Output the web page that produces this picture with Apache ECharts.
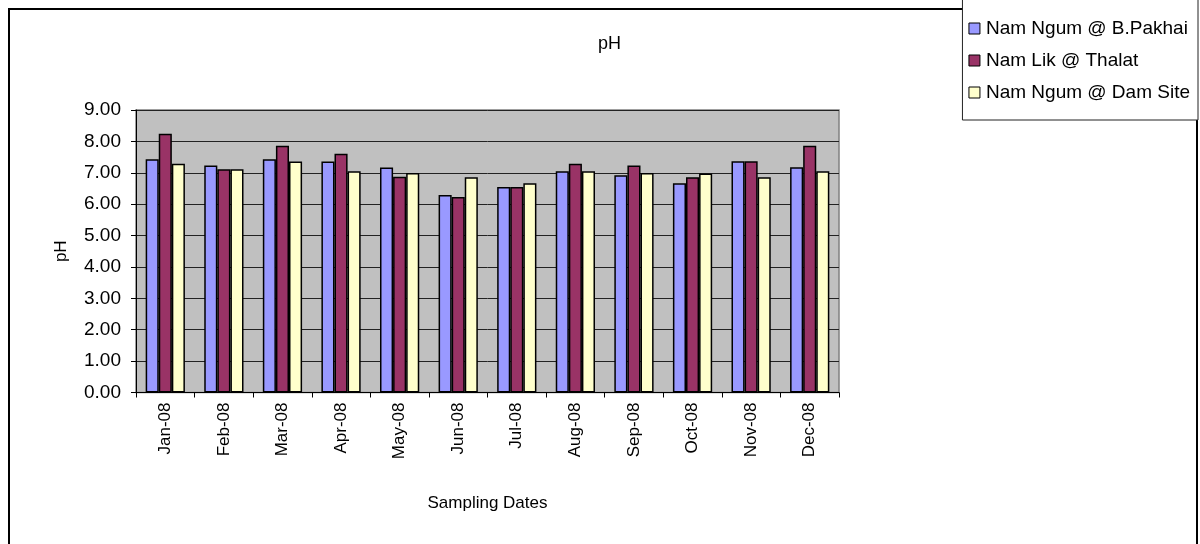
<!DOCTYPE html>
<html>
<head>
<meta charset="utf-8">
<script src="https://cdn.jsdelivr.net/npm/echarts@6/dist/echarts.min.js"></script>
<style>
html,body{margin:0;padding:0;background:#fff;}
#chart{width:1200px;height:544px;}
</style>
</head>
<body>
<div id="chart"></div>
<script>
var categories = ['Jan-08','Feb-08','Mar-08','Apr-08','May-08','Jun-08','Jul-08','Aug-08','Sep-08','Oct-08','Nov-08','Dec-08'];
var seriesNames = ['Nam Ngum @ B.Pakhai','Nam Lik @ Thalat','Nam Ngum @ Dam Site'];
var pakhai = [7.43,7.23,7.43,7.36,7.17,6.29,6.55,7.05,6.92,6.67,7.37,7.18];
var thalat = [8.24,7.11,7.86,7.61,6.87,6.23,6.55,7.29,7.23,6.86,7.37,7.86];
var damSite = [7.29,7.11,7.36,7.05,6.99,6.86,6.67,7.05,6.99,6.98,6.86,7.05];
var colors = ['#9999FF','#993366','#FFFFCC'];
var FONT = "'Liberation Sans', Arial, sans-serif";

var chart = echarts.init(document.getElementById('chart'), null, {renderer:'canvas'});
function bar(name, data, color){
  return {
    name: name, type: 'bar', data: data,
    barGap: '0%', barCategoryGap: '33%',
    itemStyle: {color: color, borderColor: '#000', borderWidth: 1.5},
    emphasis: {disabled: true}
  };
}
chart.setOption({
  animation: false,
  textStyle: {fontFamily: FONT},
  graphic: [{
    type: 'rect', z: 0, silent: true,
    shape: {x: 9, y: 9, width: 1188, height: 560},
    style: {fill: 'none', stroke: '#000', lineWidth: 2}
  }],
  title: {
    text: 'pH', left: 593, top: 30,
    textStyle: {fontFamily: FONT, fontSize: 18, fontWeight: 'normal', color: '#000'}
  },
  legend: {
    orient: 'vertical', right: 2, top: -3,
    backgroundColor: '#fff', borderColor: '#222', borderWidth: 1,
    padding: [22, 8, 18, 6], itemGap: 13,
    itemWidth: 11, itemHeight: 11, icon: 'rect',
    itemStyle: {borderColor: '#000', borderWidth: 1},
    textStyle: {fontFamily: FONT, fontSize: 19, color: '#000', padding: [0, 0, 0, 1]},
    data: seriesNames, z: 10
  },
  grid: {left: 136, right: 361, top: 110, bottom: 151.5, show: true,
    backgroundColor: '#C0C0C0', borderColor: '#808080', borderWidth: 1.5},
  xAxis: {
    type: 'category', data: categories,
    name: 'Sampling Dates', nameLocation: 'middle', nameGap: 102,
    nameTextStyle: {fontFamily: FONT, fontSize: 17, color: '#000'},
    axisLine: {lineStyle: {color: '#000', width: 1}},
    axisTick: {show: true, alignWithLabel: false, length: 5, lineStyle: {color: '#000'}},
    axisLabel: {rotate: 90, margin: 10, fontFamily: FONT, fontSize: 17, color: '#000'}
  },
  yAxis: {
    type: 'value', min: 0, max: 9, interval: 1,
    name: 'pH', nameLocation: 'middle', nameGap: 66, nameRotate: 90,
    nameTextStyle: {fontFamily: FONT, fontSize: 17, color: '#000'},
    axisLine: {show: true, lineStyle: {color: '#000', width: 1}},
    axisTick: {show: true, length: 5, lineStyle: {color: '#000'}},
    axisLabel: {fontFamily: FONT, fontSize: 19, color: '#000', margin: 15,
      formatter: function(v){ return v.toFixed(2); }},
    splitLine: {show: true, lineStyle: {color: '#222', width: 1}}
  },
  series: [bar(seriesNames[0], pakhai, colors[0]), bar(seriesNames[1], thalat, colors[1]), bar(seriesNames[2], damSite, colors[2])]
});
</script>
</body>
</html>
